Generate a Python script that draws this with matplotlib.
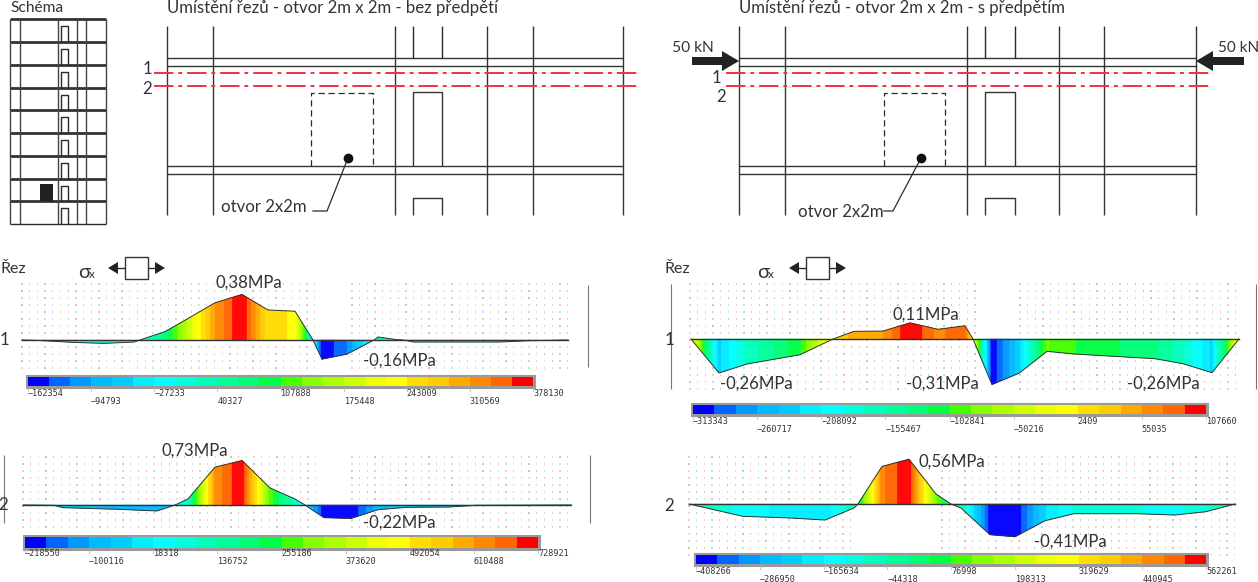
import numpy as np
import matplotlib
matplotlib.use("Agg")
import matplotlib.pyplot as plt
from matplotlib.collections import PolyCollection
from matplotlib.colors import ListedColormap, BoundaryNorm
from matplotlib.patches import Rectangle, Polygon

W, H = 1258, 582
plt.rcParams['font.family'] = ['Lato', 'Noto Sans', 'DejaVu Sans']

# ---- data: stress profiles along sections (x position, stress in MPa)
sec_a1_x = [22,42,73,104,134,140,165,184,215,242,268,295,313,322,347,374,378,395,403,414,460,499,529,568]
sec_a1_v = [0,-0.005,-0.02,-0.028,-0.017,0,0.07,0.16,0.31,0.38,0.25,0.24,0,-0.16,-0.118,0,0.025,0.005,0,-0.017,-0.017,-0.017,-0.006,0]
sec_a2_x = [23,54,63,119,157,175,188,215,242,270,295,305,324,351,378,407,449,476,571]
sec_a2_v = [0,-0.005,-0.044,-0.071,-0.098,0,0.098,0.62,0.73,0.28,0.098,0,-0.208,-0.22,-0.077,-0.038,-0.033,-0.005,0]
sec_b1_x = [691,719,747,800,833,854,883,910,938,965,973,992,1019,1047,1074,1155,1183,1212,1239]
sec_b1_v = [0,-0.231,-0.17,-0.107,0,0.052,0.054,0.11,0.066,0.09,0,-0.31,-0.233,-0.084,-0.102,-0.134,-0.168,-0.229,0]
sec_b2_x = [689,743,790,825,854,858,882,909,936,951,961,990,1015,1045,1074,1136,1175,1206,1235]
sec_b2_v = [0,-0.154,-0.175,-0.2,-0.05,0,0.47,0.56,0.125,0,-0.05,-0.384,-0.41,-0.209,-0.121,-0.121,-0.138,-0.096,0]

ticks_a1 = [-162354,-94793,-27233,40327,107888,175448,243009,310569,378130]
ticks_a2 = [-218550,-100116,18318,136752,255186,373620,492054,610488,728921]
ticks_b1 = [-313343,-260717,-208092,-155467,-102841,-50216,2409,55035,107660]
ticks_b2 = [-408266,-286950,-165634,-44318,76998,198313,319629,440945,562261]

band_colors = ['#0000ff','#0066ff','#0099ff','#00bbff','#00ccff','#00eeff','#00ffff','#00ffdd',
               '#00ffbb','#00ff99','#00ff77','#00ff44','#44ff00','#88ff00','#aaff00','#ccff00',
               '#eeff00','#ffff00','#ffdd00','#ffcc00','#ffaa00','#ff8800','#ff6600','#ff0000']
cmap = ListedColormap(band_colors)

fig = plt.figure(figsize=(W/100, H/100), dpi=100)
ax = fig.add_axes([0, 0, 1, 1])
ax.set_xlim(0, W); ax.set_ylim(H, 0); ax.axis('off')

DK = '#2b2b2b'
TXT = '#333333'

def line(xs, ys, lw=1.0, c=DK, **kw):
    ax.plot(xs, ys, color=c, lw=lw, solid_capstyle='butt', **kw)

def txt(x, y, s, size=12.1, ha='center', c=TXT):
    ax.text(x, y, s, fontsize=size, ha=ha, va='center', color=c)

# ---- building schema
floors_y = [19,42,65,88,110,133,156,179,201]
for y in floors_y:
    line([10,106],[y,y],lw=2.0,c='#333333')
line([10,106],[224,224],lw=1.0)
for x in [10,20,58,77,86,106]:
    line([x,x],[19,224],lw=1.0,c='#444444')
for y0,y1 in zip(floors_y[:-1],floors_y[1:]):
    top = y0+7
    line([61,61,68,68],[y1,top,top,y1],lw=1.0)
line([61,61,68,68],[224,208,208,224],lw=1.0)
ax.add_patch(Rectangle((40,184),13,17,fc='#222222',ec='none',zorder=3))
txt(10,8,'Schéma',ha='left',size=11.2)

# ---- elevations
def elevation(cols, door, dashed, dot, leader, reds, red_x):
    for x in cols:
        line([x,x],[26,215],lw=1.0,c='#333333')
    for y in [58,66,166,174]:
        line([cols[0],cols[-1]],[y,y],lw=1.0,c='#333333')
    dl,dr = door
    line([dl,dl],[26,58]); line([dr,dr],[26,58])
    line([dl,dl,dr,dr],[166,92,92,166],lw=1.0,c='#333333')
    line([dl,dl,dr,dr],[215,198,198,215],lw=1.0,c='#333333')
    ax.plot([dashed[0],dashed[0],dashed[1],dashed[1]],[166,93,93,166],color=DK,lw=0.9,ls=(0,(5,3)))
    ax.plot(*zip(*leader),color=DK,lw=0.9)
    ax.plot([dot[0]],[dot[1]],'o',ms=6,color='#111111')
    for y in reds:
        ax.plot(red_x,[y,y],color='#f0333f',lw=1.4,ls=(0,(10,2.5,2,2.5)),zorder=4)

elevation([167,213,395,487,533,623],(413,442),(311,373),(348,158),[(348,158),(327,211),(313,211)],[73,86],[154,640])
elevation([739,785,967,1059,1104,1196],(985,1015),(884,945),(921,158),[(921,158),(893,211),(884,211)],[73,86],[726,1211])
txt(167,8,'Umístění řezů - otvor 2m x 2m - bez předpětí',ha='left')
txt(739,8,'Umístění řezů - otvor 2m x 2m - s předpětím',ha='left')
txt(147,69,'1'); txt(147,89,'2')
txt(716,78,'1'); txt(721,97,'2')
txt(221,207,'otvor 2x2m',ha='left')
txt(798,212,'otvor 2x2m',ha='left')
txt(672,48,'50 kN',ha='left',size=11.2); txt(1218,48,'50 kN',ha='left',size=11.0)

def arrow(x0, x1, y, head, hh, shaft, c='#222222', zorder=5):
    d = 1 if x1 > x0 else -1
    pts = [(x0,y-shaft),(x1-d*head,y-shaft),(x1-d*head,y-hh),(x1,y),(x1-d*head,y+hh),(x1-d*head,y+shaft),(x0,y+shaft)]
    ax.add_patch(Polygon(pts,closed=True,fc=c,ec='none',zorder=zorder))
arrow(692,739,61,17,10,4)
arrow(1244,1196,61,17,10,4)

# ---- sigma symbols
def sigma(x_box, tx, rez_x, arrows):
    ax.add_patch(Rectangle((x_box,257),23,22,fc='white',ec='#333333',lw=1.0))
    line([arrows[0]+8,x_box],[268,268],lw=1.0); line([x_box+23,arrows[1]-8],[268,268],lw=1.0)
    ax.add_patch(Polygon([(arrows[0],268),(arrows[0]+10,262),(arrows[0]+10,274)],fc='#222222',ec='none'))
    ax.add_patch(Polygon([(arrows[1],268),(arrows[1]-10,262),(arrows[1]-10,274)],fc='#222222',ec='none'))
    ax.text(tx,273,'σ',fontsize=14.5,ha='left',va='center',color=TXT)
    ax.text(tx+11,275,'x',fontsize=8.5,ha='left',va='center',color=TXT)
    txt(rez_x,269,'Řez',ha='left',size=11.5)
sigma(125,78,0,(108,165))
sigma(806,757,665,(789,846))

# ---- section panels
def dots(x_ranges, y0, y1):
    palette = ['#f3cdbc','#bfdeec','#e4e4b0','#c6c6c6','#f1b9c6','#bce7cb']
    ys = np.arange(y0, y1, 7.0)
    for xa, xb in x_ranges:
        xs = np.arange(xa, xb, 7.7)
        xx, yy = np.meshgrid(xs, ys)
        idx = (np.arange(xx.size)) % len(palette)
        ax.scatter(xx.ravel(), yy.ravel(), s=1.0, c=[palette[i] for i in idx], marker='s', linewidths=0, zorder=0)

def section(xs, vs, base, scale, ticks, bar, lab_y):
    sub = fig.add_axes([0,0,1,1],facecolor='none')
    sub.axis('off')
    sub.set_xlim(0,W); sub.set_ylim((base-H)/scale, base/scale)
    lo,hi = ticks[0]/1e6,ticks[-1]/1e6
    bounds = np.linspace(lo,hi,len(band_colors)+1)
    norm = BoundaryNorm(bounds,cmap.N)
    # colour strips along the member
    fine = np.arange(xs[0],xs[-1]+0.5,0.5)
    vals = np.interp(fine,xs,vs)
    polys,cols = [],[]
    for i in range(len(fine)-1):
        v0,v1 = vals[i],vals[i+1]
        polys.append([(fine[i],0),(fine[i],v0),(fine[i+1],v1),(fine[i+1],0)])
        cols.append(cmap(norm((v0+v1)/2)))
    pc = PolyCollection(polys,facecolors=cols,edgecolors=cols,linewidths=0.25)
    sub.add_collection(pc)
    sub.plot(xs,vs,color='#333333',lw=0.7)
    sub.plot([xs[0],xs[-1]],[0,0],color='#333333',lw=1.0)
    # colour bar
    x0,x1,y0,y1 = bar
    ax.add_patch(Rectangle((x0-2,y0-2),x1-x0+4,y1-y0+4,fc='#9a9a9a',ec='#9a9a9a',lw=0.8))
    edges = np.linspace(x0,x1,len(band_colors)+1)
    ax.pcolormesh(edges,[y0,y1],[bounds[:-1]+1e-9],cmap=cmap,norm=norm,zorder=2)
    tick_x = np.linspace(x0,x1,len(ticks))
    for i,(tx,t) in enumerate(zip(tick_x,ticks)):
        ax.plot([tx,tx],[y1+2,y1+5],color='#bbbbbb',lw=0.6)
        ax.text(tx,lab_y[i%2],str(t).replace('-','\u2212'),fontsize=6.1,ha='left',va='center',
                color='#333333',family=['DejaVu Sans Mono','DejaVu Sans'])

dots([(22,318),(352,572)],284,372)
dots([(23,318),(352,572)],457,530)
dots([(690,976),(1020,1240)],284,392)
dots([(689,852),(942,1238)],457,558)
section(sec_a1_x,sec_a1_v,340,120,ticks_a1,(28,533,377,386),(393,401))
section(sec_a2_x,sec_a2_v,505,61,ticks_a2,(25,538,537,548),(554,561))
section(sec_b1_x,sec_b1_v,339,147,ticks_b1,(693,1206,405,414),(422,429))
section(sec_b2_x,sec_b2_v,504,80,ticks_b2,(696,1206,555,564),(572,579))

for x,y0,y1 in [(588,285,367),(4,455,523),(590,455,523),(671,284,389),(1256,284,389)]:
    line([x,x],[y0,y1],lw=0.8,c='#777777')

top = fig.add_axes([0,0,1,1],facecolor='none'); top.axis('off')
top.set_xlim(0,W); top.set_ylim(H,0)
for (x,y,s) in [(4,340,'1'),(249,283,'0,38MPa'),(399,361,'-0,16MPa'),(3,505,'2'),(195,451,'0,73MPa'),
                (399,523,'-0,22MPa'),(669,340,'1'),(926,315,'0,11MPa'),(756,384,'-0,26MPa'),
                (942,384,'-0,31MPa'),(1163,384,'-0,26MPa'),(669,506,'2'),(952,462,'0,56MPa'),(1070,542,'-0,41MPa')]:
    top.text(x,y,s,fontsize=12.1,ha='center',va='center',color=TXT)

fig.savefig('out.png',dpi=100)
